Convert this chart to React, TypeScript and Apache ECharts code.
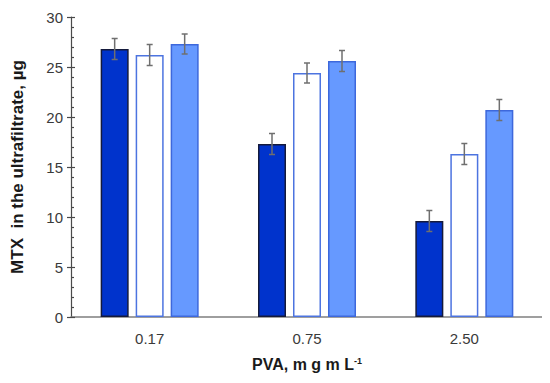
import React, { useEffect, useRef } from "react";
import * as echarts from "echarts";

const categories = ["0.17", "0.75", "2.50"];
const seriesA = [26.8, 17.3, 9.6];
const seriesB = [26.2, 24.4, 16.3];
const seriesC = [27.3, 25.6, 20.7];
const errorA = [1.05, 1.05, 1.05];
const errorB = [1.05, 1.0, 1.05];
const errorC = [1.0, 1.05, 1.05];
const yTicks = { min: 0, max: 30, interval: 5 };

const BAR_W = 28;
const GAP = 7;

function errSeries(values: number[], errs: number[], offset: number) {
  return {
    type: "custom",
    z: 10,
    silent: true,
    data: values.map((v, i) => [i, v - errs[i], v + errs[i]]),
    renderItem: (params: any, api: any) => {
      const lo = api.coord([api.value(0), api.value(1)]);
      const hi = api.coord([api.value(0), api.value(2)]);
      const x = lo[0] + offset;
      const cap = 3;
      const style = { stroke: "#6f6f6f", lineWidth: 1.5 };
      return {
        type: "group",
        children: [
          { type: "line", shape: { x1: x, y1: lo[1], x2: x, y2: hi[1] }, style },
          { type: "line", shape: { x1: x - cap, y1: lo[1], x2: x + cap, y2: lo[1] }, style },
          { type: "line", shape: { x1: x - cap, y1: hi[1], x2: x + cap, y2: hi[1] }, style },
        ],
      };
    },
  };
}

export default function App() {
  const ref = useRef<HTMLDivElement>(null);
  useEffect(() => {
    const chart = echarts.init(ref.current!, null, { renderer: "svg" });
    const off = BAR_W + GAP;
    chart.setOption({
      animation: false,
      grid: { left: 71, right: 7, top: 17, bottom: 66, containLabel: false },
      xAxis: {
        type: "category",
        data: categories,
        axisLine: { lineStyle: { color: "#7f7f7f", width: 1.5 } },
        axisTick: { show: false },
        axisLabel: { color: "#3a3a3a", fontSize: 15, fontFamily: "Liberation Sans", margin: 14 },
        name: "{n|PVA, m g m L}{s|-1}",
        nameLocation: "middle",
        nameGap: 39,
        nameTextStyle: {
          rich: {
            n: { fontSize: 16, fontWeight: "bold", color: "#1a1a1a", fontFamily: "Liberation Sans" },
            s: { fontSize: 9, fontWeight: "bold", color: "#1a1a1a", fontFamily: "Liberation Sans", verticalAlign: "top", padding: [0, 0, 7, 0] },
          },
        },
      },
      yAxis: [
        {
          type: "value",
          min: yTicks.min,
          max: yTicks.max,
          interval: yTicks.interval,
          axisLine: { show: true, lineStyle: { color: "#4a4a4a", width: 1.2 } },
          axisTick: { show: true, inside: false, length: 4, lineStyle: { color: "#4a4a4a", width: 1.2 } },
          splitLine: { show: false },
          axisLabel: { color: "#3a3a3a", fontSize: 15, fontFamily: "Liberation Sans", margin: 8 },
          name: "MTX  in the ultrafiltrate, µg",
          nameLocation: "middle",
          nameGap: 45,
          nameTextStyle: { fontSize: 17, fontWeight: "bold", color: "#1a1a1a", fontFamily: "Liberation Sans Narrow, Liberation Sans" },
        },
        {
          type: "value",
          position: "left",
          min: yTicks.min,
          max: yTicks.max,
          interval: yTicks.interval,
          axisLine: { show: false },
          axisTick: { show: true, inside: true, length: 4, lineStyle: { color: "#4a4a4a", width: 1.2 } },
          minorTick: { show: true, splitNumber: 5, length: 3, lineStyle: { color: "#4a4a4a", width: 1.2 } },
          axisLabel: { show: false },
          splitLine: { show: false },
        },
      ],
      series: [
        {
          type: "bar",
          data: seriesA,
          barWidth: BAR_W,
          barGap: (GAP / BAR_W) * 100 + "%",
          itemStyle: { color: "#0033cc", borderColor: "#141a3c", borderWidth: 1.5 },
        },
        {
          type: "bar",
          data: seriesB,
          barWidth: BAR_W,
          itemStyle: { color: "#ffffff", borderColor: "#4d74e0", borderWidth: 1.5 },
        },
        {
          type: "bar",
          data: seriesC,
          barWidth: BAR_W,
          itemStyle: { color: "#6699ff", borderColor: "#3d68dc", borderWidth: 1.5 },
        },
        errSeries(seriesA, errorA, -off),
        errSeries(seriesB, errorB, 0),
        errSeries(seriesC, errorC, off),
      ],
    });
    return () => chart.dispose();
  }, []);
  return <div ref={ref} style={{ width: 550, height: 383, margin: -8 }} />;
}
